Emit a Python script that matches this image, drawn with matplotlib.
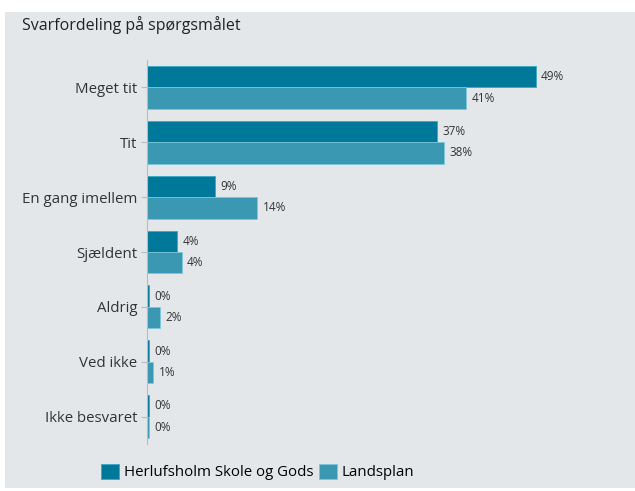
import matplotlib.pyplot as plt
import matplotlib.patches as mpatches
import numpy as np

plt.rcParams['font.family'] = ['Open Sans', 'DejaVu Sans']

categories = ["Meget tit", "Tit", "En gang imellem", "Sjældent", "Aldrig", "Ved ikke", "Ikke besvaret"]
skole = [49.4, 36.9, 8.6, 3.8, 0.3, 0.3, 0.3]
landsplan = [40.6, 37.7, 14.0, 4.4, 1.6, 0.8, 0.3]
skole_labels = ["49%", "37%", "9%", "4%", "0%", "0%", "0%"]
land_labels = ["41%", "38%", "14%", "4%", "2%", "1%", "0%"]

dark = "#00789a"
light = "#3a98b2"
bg = "#e4e7ea"

fig = plt.figure(figsize=(6.35, 4.91), dpi=100)
fig.patch.set_facecolor("white")
fig.patches.append(mpatches.Rectangle((5 / 635, 3 / 491), 1, 1 - 15 / 491,
                                      transform=fig.transFigure, facecolor=bg,
                                      edgecolor="none", zorder=-1))

ax = fig.add_axes([147 / 635, 1 - 444 / 491, 472 / 635, 384 / 491])
ax.set_facecolor("none")

y = np.arange(len(categories))
h = 0.39
ax.barh(y - h / 2, skole, height=h, color=dark, edgecolor="#3aa9c4", linewidth=0.6, label="Herlufsholm Skole og Gods")
ax.barh(y + h / 2, landsplan, height=h, color=light, edgecolor="#7cc7da", linewidth=0.6, label="Landsplan")

for i in range(len(categories)):
    ax.text(skole[i] + 0.7, y[i] - h / 2, skole_labels[i], va="center", ha="left", fontsize=8.5, color="#333333")
    ax.text(landsplan[i] + 0.7, y[i] + h / 2, land_labels[i], va="center", ha="left", fontsize=8.5, color="#333333")

ax.set_xlim(0, 60)
ax.set_ylim(len(categories) - 0.5, -0.5)
ax.set_yticks(y)
ax.set_yticklabels(categories, fontsize=10.8, color="#333333")
ax.set_xticks([])
for s in ["top", "right", "bottom"]:
    ax.spines[s].set_visible(False)
ax.spines["left"].set_color("#b8bcc0")
ax.tick_params(axis="y", length=4, color="#b8bcc0", pad=3)

fig.text(22 / 635, 1 - 25 / 491, "Svarfordeling på spørgsmålet", fontsize=11.5, color="#222222", va="center", ha="left")

fig.legend(loc="center", bbox_to_anchor=(258 / 635, 1 - 472 / 491), ncol=2, frameon=False,
           fontsize=10.8, handlelength=1.2, handleheight=1.2, handletextpad=0.3, columnspacing=0.4)

fig.savefig("out.png", dpi=100)
